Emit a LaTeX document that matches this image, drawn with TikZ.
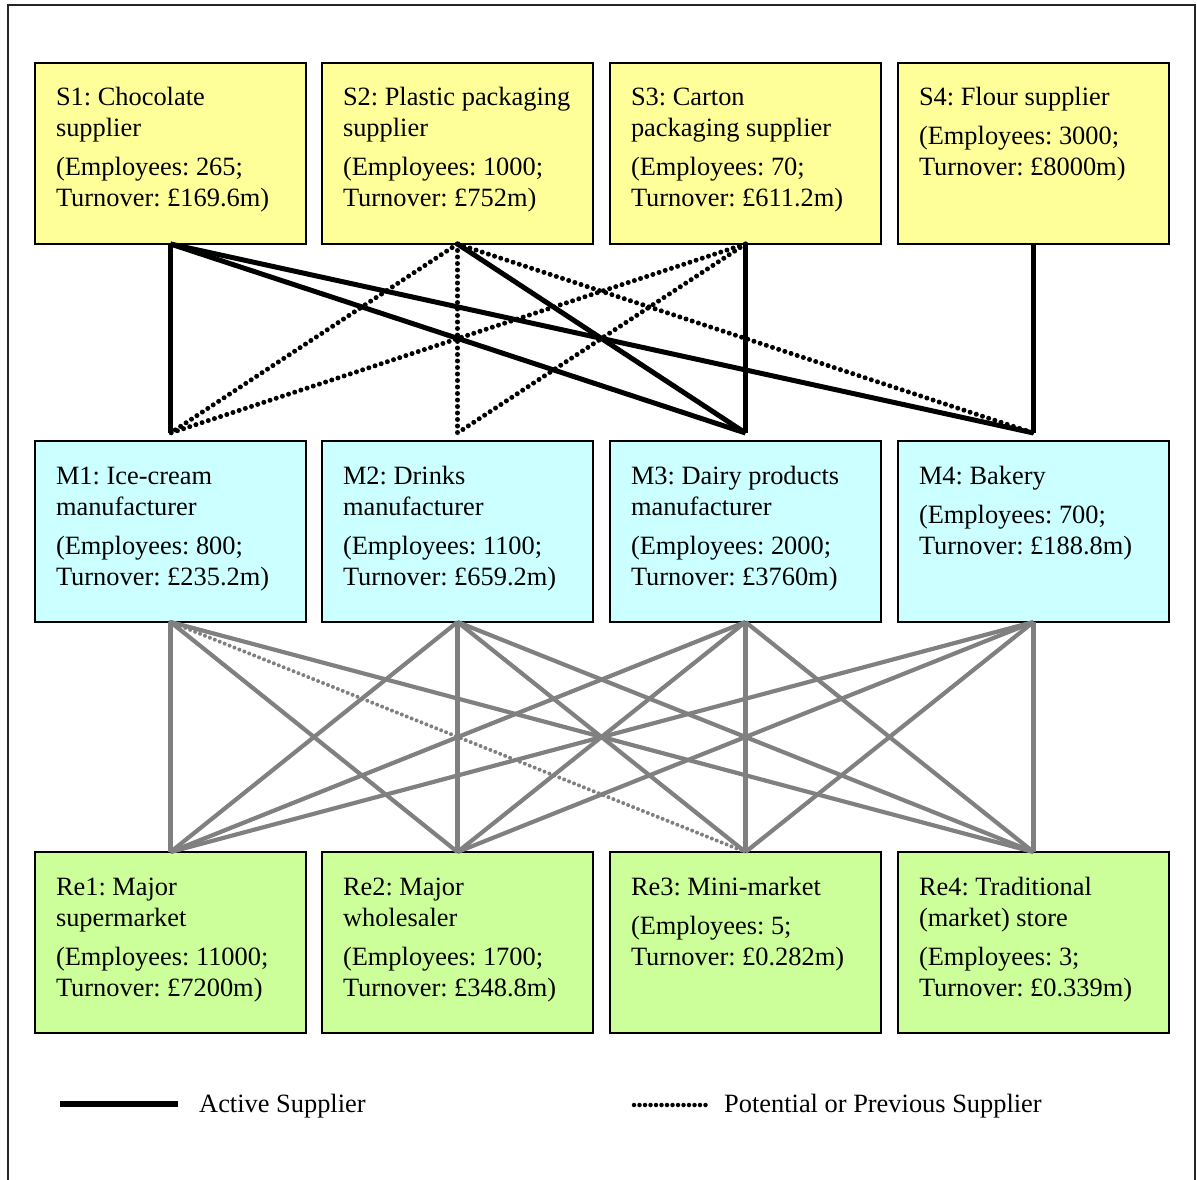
\documentclass[tikz,border=0pt]{standalone}
\usepackage{fontspec}
\setmainfont{Liberation Serif}
\definecolor{supY}{HTML}{FFFF99}
\definecolor{manC}{HTML}{CCFFFF}
\definecolor{retG}{HTML}{CCFF99}
\definecolor{lnk}{HTML}{808080}
\frenchspacing
\newcommand\boxtxt[2]{\hspace*{21pt}\parbox[t][181pt][t]{250pt}{\raggedright\frenchspacing\fontsize{26.4}{31}\selectfont\vspace*{21.3pt}\strut #1\par\vspace{8pt}#2}}
\tikzset{
  org/.style={draw=black, line width=1.8pt, inner sep=0pt, outer sep=0pt, anchor=north west},
  supbox/.style={org, fill=supY},
  manbox/.style={org, fill=manC},
  retbox/.style={org, fill=retG},
  active/.style={line width=5pt, black},
  potential/.style={line width=5pt, black, dash pattern=on 0pt off 6.5pt, line cap=round},
  glink/.style={line width=4.2pt, lnk},
  gpot/.style={line width=4pt, lnk, dash pattern=on 0pt off 5.3pt, line cap=round},
  legtext/.style={anchor=base west, inner sep=0pt, font=\fontsize{26.4}{31}\selectfont}
}
\begin{document}
\begin{tikzpicture}[x=1pt, y=-1pt]
\useasboundingbox (0,0) rectangle (1197,1180);
% outer frame
\draw[line width=2pt, black!85] (8,1182) -- (8,5) -- (1195,5) -- (1195,1182);
% suppliers
\node[supbox] (S1) at (35,63) {\boxtxt{S1: Chocolate\\supplier}{(Employees: 265;\\Turnover: £169.6m)}};
\node[supbox] (S2) at (322,63) {\boxtxt{S2: Plastic packaging\\supplier}{(Employees: 1000;\\Turnover: £752m)}};
\node[supbox] (S3) at (610,63) {\boxtxt{S3: Carton\\packaging supplier}{(Employees: 70;\\Turnover: £611.2m)}};
\node[supbox] (S4) at (898,63) {\boxtxt{S4: Flour supplier}{(Employees: 3000;\\Turnover: £8000m)}};
% manufacturers
\node[manbox] (M1) at (35,441) {\boxtxt{M1: Ice-cream\\manufacturer}{(Employees: 800;\\Turnover: £235.2m)}};
\node[manbox] (M2) at (322,441) {\boxtxt{M2: Drinks\\manufacturer}{(Employees: 1100;\\Turnover: £659.2m)}};
\node[manbox] (M3) at (610,441) {\boxtxt{M3: Dairy products\\manufacturer}{(Employees: 2000;\\Turnover: £3760m)}};
\node[manbox] (M4) at (898,441) {\boxtxt{M4: Bakery}{(Employees: 700;\\Turnover: £188.8m)}};
% retailers
\node[retbox] (R1) at (35,852) {\boxtxt{Re1: Major\\supermarket}{(Employees: 11000;\\Turnover: £7200m)}};
\node[retbox] (R2) at (322,852) {\boxtxt{Re2: Major\\wholesaler}{(Employees: 1700;\\Turnover: £348.8m)}};
\node[retbox] (R3) at (610,852) {\boxtxt{Re3: Mini-market}{(Employees: 5;\\Turnover: £0.282m)}};
\node[retbox] (R4) at (898,852) {\boxtxt{Re4: Traditional\\(market) store}{(Employees: 3;\\Turnover: £0.339m)}};
% connector end points above manufacturers
\foreach \m in {1,2,3,4} {\coordinate (M\m t) at ([yshift=8pt]M\m.north);}
% supplier -> manufacturer
\draw[active] (S1.south) -- (M1t);
\draw[active] (S1.south) -- (M3t);
\draw[active] (S1.south) -- (M4t);
\draw[active] (S2.south) -- (M3t);
\draw[active] (S3.south) -- (M3t);
\draw[active] (S4.south) -- (M4t);
\draw[potential] (S2.south) -- (M1t);
\draw[potential] (S2.south) -- (M2t);
\draw[potential] (S2.south) -- (M4t);
\draw[potential] (S3.south) -- (M1t);
\draw[potential] (S3.south) -- (M2t);
% manufacturer -> retailer
\foreach \m/\r in {1/1,1/2,1/4,2/1,2/2,2/3,2/4,3/1,3/2,3/3,3/4,4/1,4/2,4/3,4/4}
  {\draw[glink] (M\m.south) -- (R\r.north);}
\draw[gpot] (M1.south) -- (R3.north);
% legend
\coordinate (la) at (60,1104);
\coordinate (lb) at (178,1104);
\draw[line width=6pt, black] (la) -- (lb);
\node[legtext] (lt1) at (199,1112) {Active Supplier};
\coordinate (lc) at (634,1105);
\coordinate (ld) at (706,1105);
\draw[line width=4.5pt, black, dash pattern=on 0pt off 5.5pt, line cap=round] (lc) -- (ld);
\node[legtext] (lt2) at (724,1112) {Potential or Previous Supplier};
\end{tikzpicture}
\end{document}
